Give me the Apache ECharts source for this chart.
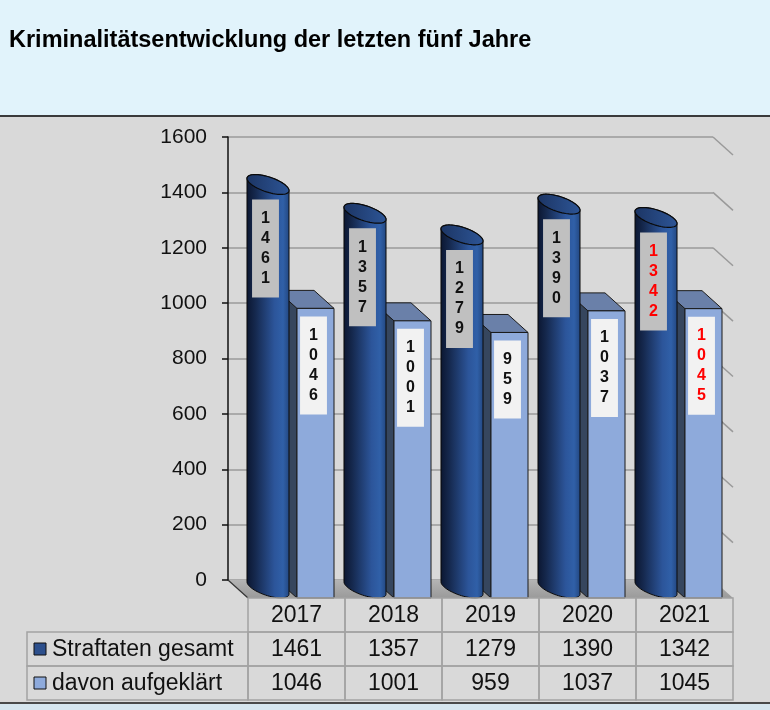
<!DOCTYPE html>
<html>
<head>
<meta charset="utf-8">
<title>Kriminalitätsentwicklung</title>
<script src="https://cdn.jsdelivr.net/npm/echarts@6/dist/echarts.min.js"></script>
<style>
html,body{margin:0;padding:0;background:#d9d9d9;}
#chart{width:770px;height:710px;}
</style>
</head>
<body>
<div id="chart"></div>
<script>
var titleText = 'Kriminalitätsentwicklung der letzten fünf Jahre';
var years = ['2017', '2018', '2019', '2020', '2021'];
var gesamt = [1461, 1357, 1279, 1390, 1342];
var aufgeklaert = [1046, 1001, 959, 1037, 1045];
var seriesNames = ['Straftaten gesamt', 'davon aufgeklärt'];
var yTicks = [0, 200, 400, 600, 800, 1000, 1200, 1400, 1600];
var redYear = '2021';

var FONT = '"Liberation Sans", Arial, sans-serif';
var DX = 20, DY = 18;          // 3d depth offset
var ROW = 34;                  // table row height

function ellipsePts(cx, cy, a, b, th, n) {
  var pts = [], c = Math.cos(th), s = Math.sin(th);
  for (var k = 0; k < n; k++) {
    var t = 2 * Math.PI * k / n, ex = a * Math.cos(t), ey = b * Math.sin(t);
    pts.push([cx + ex * c - ey * s, cy + ex * s + ey * c]);
  }
  return pts;
}

// cylinder outline: upper half of top ellipse + lower half of bottom ellipse
function cylinderBody(top, bottom) {
  var n = top.length, iL = 0, iR = 0, iT = 0;
  for (var k = 1; k < n; k++) {
    if (top[k][0] < top[iL][0]) iL = k;
    if (top[k][0] > top[iR][0]) iR = k;
    if (top[k][1] < top[iT][1]) iT = k;
  }
  var fwd = true, k2 = iL;
  while (k2 !== iR) { if (k2 === iT) break; k2 = (k2 + 1) % n; }
  if (k2 === iR && iT !== iR) fwd = false;
  var step = fwd ? 1 : n - 1, pts = [];
  k2 = iL;
  while (true) { pts.push(top[k2]); if (k2 === iR) break; k2 = (k2 + step) % n; }
  k2 = iR;
  while (true) { pts.push(bottom[k2]); if (k2 === iL) break; k2 = (k2 + step) % n; }
  return pts;
}

function digitLabel(x, y, val, bg, color) {
  return {
    type: 'text', x: x, y: y, z2: 10,
    style: {
      text: String(val).split('').join('\n'),
      fill: color, fontSize: 16, fontWeight: 'bold', fontFamily: FONT,
      lineHeight: 20, align: 'center', verticalAlign: 'top',
      backgroundColor: bg, padding: [9, 9, 9, 9]
    }
  };
}

function renderFloor(params, api) {
  var a = api.coord([0, 0]), b = api.coord([years.length - 1, 0]);
  var bw = api.size([1, 0])[0];
  var l = a[0] - bw / 2, r = b[0] + bw / 2, y = a[1];
  return {
    type: 'group', children: [
      { type: 'polygon', shape: { points: [[l, y], [r, y], [r + DX, y + DY], [l + DX, y + DY]] },
        style: { fill: new echarts.graphic.LinearGradient(0, 0, 0, 1, [
          { offset: 0, color: '#b4b4b4' }, { offset: 1, color: '#9a9a9a' }]) } },
      { type: 'line', shape: { x1: l, y1: y, x2: l + DX, y2: y + DY }, style: { stroke: '#333', lineWidth: 1.2 } }
    ]
  };
}

function renderSide(params, api) {
  var v = api.value(0);
  var p = api.coord([years.length - 1, v]);
  var r = p[0] + api.size([1, 0])[0] / 2;
  return { type: 'line', shape: { x1: r, y1: p[1], x2: r + DX, y2: p[1] + DY },
    style: { stroke: '#9a9a9a', lineWidth: 1.5 } };
}

function renderBars(params, api) {
  var i = api.value(0), v1 = api.value(1), v2 = api.value(2);
  var bw = api.size([1, 0])[0];
  var p0 = api.coord([i, 0]), p1 = api.coord([i, v1]), p2 = api.coord([i, v2]);
  var bandLeft = p0[0] - bw / 2, y0 = p0[1];
  var red = years[i] === redYear;
  var txt = red ? '#ff0000' : '#111';
  var ch = [];

  // light box (aufgeklaert)
  var fx = bandLeft + DX + 49, fw = 37, yv = p2[1];
  ch.push({ type: 'polygon', shape: { points: [[fx - DX, yv], [fx, yv + DY], [fx, y0 + DY], [fx - DX, y0]] },
    style: { fill: '#36465e', stroke: '#1a1a1a', lineWidth: 1 } });
  ch.push({ type: 'polygon', shape: { points: [[fx - DX, yv], [fx + fw - DX, yv], [fx + fw, yv + DY], [fx, yv + DY]] },
    style: { fill: '#6a80a9', stroke: '#1a1a1a', lineWidth: 1 } });
  ch.push({ type: 'rect', shape: { x: fx, y: yv + DY, width: fw, height: y0 - yv },
    style: { fill: '#8eaadb', stroke: '#1a1a1a', lineWidth: 1 } });
  ch.push(digitLabel(fx + fw / 2 - 2, yv + DY + 8, v2, '#f2f2f2', txt));

  // cylinder (gesamt)
  var cx = bandLeft + 40, th = 0.32, a = 22, b = 7.5;
  var top = ellipsePts(cx, p1[1] + 9, a, b, th, 72);
  var bot = ellipsePts(cx, y0 + 8, a, b, th, 72);
  ch.push({ type: 'polygon', shape: { points: cylinderBody(top, bot) },
    style: { fill: new echarts.graphic.LinearGradient(0, 0, 1, 0, [
      { offset: 0, color: '#0b1630' }, { offset: 0.2, color: '#15284d' },
      { offset: 0.65, color: '#2c559a' }, { offset: 0.85, color: '#3060a8' },
      { offset: 1, color: '#22467f' }]), stroke: '#0a0a0a', lineWidth: 1 } });
  ch.push({ type: 'polygon', shape: { points: top },
    style: { fill: new echarts.graphic.LinearGradient(0, 0, 1, 0, [
      { offset: 0, color: '#1c3564' }, { offset: 1, color: '#2d5596' }]), stroke: '#0a0a0a', lineWidth: 1.2 } });
  ch.push(digitLabel(cx - 2.5, p1[1] + 24, v1, '#c0c0c0', txt));

  return { type: 'group', children: ch };
}

function renderTable(params, api) {
  var i = api.value(0);
  var bw = api.size([1, 0])[0];
  var p0 = api.coord([i, 0]);
  var left = p0[0] - bw / 2 + DX, top = p0[1] + DY;
  var lineStyle = { fill: 'none', stroke: '#a3a3a3', lineWidth: 1.5 };
  var cellText = function (t, x, y) {
    return { type: 'text', x: x, y: y, style: { text: t, fill: '#111', fontSize: 23, fontFamily: FONT,
      align: 'center', verticalAlign: 'middle' } };
  };
  var ch = [];
  var vals = [years[i], gesamt[i], aufgeklaert[i]];
  for (var r = 0; r < 3; r++) {
    ch.push({ type: 'rect', shape: { x: left, y: top + r * ROW, width: bw, height: ROW }, style: lineStyle });
    ch.push(cellText(String(vals[r]), left + bw / 2, top + r * ROW + ROW / 2 + 1));
  }
  if (i === 0) {
    var lx = 27, colors = ['#2c4f8c', '#8eaadb'];
    for (var s = 0; s < 2; s++) {
      var ry = top + (s + 1) * ROW;
      ch.push({ type: 'rect', shape: { x: lx, y: ry, width: left - lx, height: ROW }, style: lineStyle });
      ch.push({ type: 'rect', shape: { x: 34, y: ry + ROW / 2 - 6, width: 12, height: 12 },
        style: { fill: colors[s], stroke: '#111', lineWidth: 1 } });
      ch.push({ type: 'text', x: 52, y: ry + ROW / 2 + 1, style: { text: seriesNames[s], fill: '#111',
        fontSize: 23, fontFamily: FONT, align: 'left', verticalAlign: 'middle' } });
    }
  }
  return { type: 'group', children: ch };
}

var barData = years.map(function (y, i) { return [i, gesamt[i], aufgeklaert[i]]; });
var tableData = years.map(function (y, i) { return [i]; });
var sideData = yTicks.slice(1).map(function (t) { return [t]; });

var chart = echarts.init(document.getElementById('chart'));
chart.setOption({
  backgroundColor: '#d9d9d9',
  animation: false,
  graphic: [
    { type: 'rect', left: 0, top: 0, shape: { width: 770, height: 116 }, style: { fill: '#e1f3fb' }, z: -1 },
    { type: 'line', shape: { x1: 0, y1: 116, x2: 770, y2: 116 }, style: { stroke: '#3a3a3a', lineWidth: 2 } },
    { type: 'rect', left: 0, top: 703, shape: { width: 770, height: 7 }, style: { fill: '#d6e6ef' }, z: -1 },
    { type: 'line', shape: { x1: 0, y1: 703, x2: 770, y2: 703 }, style: { stroke: '#4a4a4a', lineWidth: 2 } },
    { type: 'text', left: 9, top: 29, style: { text: titleText, fill: '#000', fontSize: 23.5,
      fontWeight: 'bold', fontFamily: FONT } }
  ],
  grid: { left: 228, right: 57, top: 137, bottom: 130 },
  xAxis: {
    type: 'category', data: years, boundaryGap: true,
    axisLine: { show: false }, axisTick: { show: false }, axisLabel: { show: false }
  },
  yAxis: {
    type: 'value', min: 0, max: 1600, interval: 200,
    axisLine: { show: true, lineStyle: { color: '#111', width: 1.5 } },
    axisTick: { show: true, length: 6, lineStyle: { color: '#111', width: 1.5 } },
    axisLabel: { color: '#111', fontSize: 21, fontFamily: FONT, margin: 21,
      formatter: function (v) { return String(v); } },
    splitLine: { show: true, lineStyle: { color: '#9a9a9a', width: 1.5 } }
  },
  series: [
    { type: 'custom', name: 'floor', data: [[0]], renderItem: renderFloor, clip: false, z: 1, silent: true },
    { type: 'custom', name: 'side', data: sideData, renderItem: renderSide, clip: false, z: 1, silent: true },
    { type: 'custom', name: 'bars', data: barData, renderItem: renderBars, clip: false, z: 3,
      encode: { x: 0, y: [1, 2] } },
    { type: 'custom', name: 'table', data: tableData, renderItem: renderTable, clip: false, z: 4, silent: true }
  ]
});
</script>
</body>
</html>
